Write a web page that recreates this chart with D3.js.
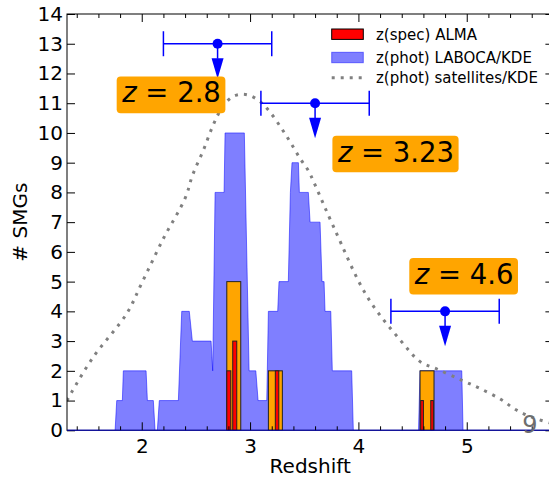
<!DOCTYPE html>
<html>
<head>
<meta charset="utf-8">
<script src="https://cdn.jsdelivr.net/npm/d3@7"></script>
<style>
	body { margin: 0; background: #fff; }
	svg { display: block; font-family: "DejaVu Sans", sans-serif; }
</style>
</head>
<body>
<svg id="chart" width="549" height="477"></svg>
<script>

// LABOCA/KDE outline, [redshift, count]
const labocaKde = [
	[1.31, 0], [1.754, 0], [1.769, 1], [1.821, 1], [1.830, 2], [2.040, 2], [2.052, 1], [2.107, 1], [2.123, 0],
	[2.144, 0], [2.162, 1], [2.338, 1], [2.369, 4], [2.439, 4], [2.467, 3], [2.640, 3], [2.655, 2], [2.677, 8],
	[2.760, 8], [2.769, 10], [2.947, 10], [2.991, 2], [3.053, 2], [3.074, 1], [3.154, 1], [3.169, 4], [3.255, 4],
	[3.267, 5], [3.353, 5], [3.372, 8], [3.387, 9], [3.446, 9], [3.455, 8], [3.538, 8], [3.554, 7], [3.646, 7],
	[3.664, 5], [3.683, 5], [3.692, 4], [3.745, 4], [3.759, 2], [3.938, 2], [3.953, 0],
	[4.555, 0], [4.569, 2], [4.954, 2], [4.966, 0], [5.8, 0]
];

// satellites/KDE curve, [redshift, count]
const satelliteKde = [
	[1.31, 1.0], [1.354, 1.29], [1.55, 2.45], [1.862, 3.93], [2.0, 4.95], [2.2, 6.45], [2.40, 7.8], [2.47, 8.59],
	[2.57, 9.43], [2.66, 10.27], [2.75, 10.9], [2.84, 11.22], [2.93, 11.3], [3.01, 11.24], [3.10, 11.03],
	[3.18, 10.72], [3.28, 10.21], [3.37, 9.7], [3.46, 9.15], [3.54, 8.72], [3.60, 8.25], [3.77, 6.85],
	[4.08, 4.5], [4.385, 3.04], [4.57, 2.31], [4.72, 2.07], [4.95, 1.69], [5.12, 1.41], [5.31, 1.05],
	[5.45, 0.7], [5.615, 0.42], [5.8, 0.22]
];

// orange bins [z0, z1, count]
const peakBins = [[2.785, 2.914, 5], [3.169, 3.298, 2], [4.569, 4.698, 2]];

// ALMA spectroscopic redshifts [z0, z1, count]
const almaSpec = [[2.785, 2.822, 2], [2.840, 2.877, 3], [3.233, 3.265, 2], [4.575, 4.600, 1], [4.668, 4.692, 1]];

// satellite peaks with error bars
const peakZ = [2.7, 3.6, 4.8];
const peakN = [13, 11, 4];
const peakErr = [0.5, 0.5, 0.5];

// orange labels, text and anchor in data units
const labelText = ["2.8", "3.23", "4.6"];
const labelZ = [2.275, 4.347, 4.976];
const labelN = [11.28, 9.29, 5.18];

const legendNames = ["z(spec) ALMA", "z(phot) LABOCA/KDE", "z(phot) satellites/KDE"];

const xMajor = [2, 3, 4, 5];
const xMinor = [1.4, 1.6, 1.8, 2.2, 2.4, 2.6, 2.8, 3.2, 3.4, 3.6, 3.8, 4.2, 4.4, 4.6, 4.8, 5.2, 5.4, 5.6];
const yTicks = [0, 1, 2, 3, 4, 5, 6, 7, 8, 9, 10, 11, 12, 13, 14];

const svg = d3.select("#chart");

const pLeft = 67, pRight = 553.4, pTop = 14, pBottom = 430.3;

const x = d3.scaleLinear().domain([1.31, 5.8]).range([pLeft, pRight]);
const y = d3.scaleLinear().domain([0, 14]).range([pBottom, pTop]);

svg.append("defs").append("clipPath")
	.attr("id", "plot-clip")
	.append("rect")
		.attr("x", pLeft).attr("y", pTop)
		.attr("width", pRight - pLeft).attr("height", pBottom - pTop);

const plot = svg.append("g").attr("clip-path", "url(#plot-clip)");

// LABOCA KDE area
const outline = d3.line().x(d => x(d[0])).y(d => y(d[1]));
plot.append("path")
	.attr("d", outline(labocaKde) + "Z")
	.attr("fill", "rgba(0,0,255,0.5)")
	.attr("stroke", "rgba(0,0,255,0.5)")
	.attr("stroke-width", 1);

// satellites KDE dotted
const curve = d3.line().x(d => x(d[0])).y(d => y(d[1])).curve(d3.curveCatmullRom);
plot.append("path")
	.attr("d", curve(satelliteKde))
	.attr("fill", "none")
	.attr("stroke", "#808080")
	.attr("stroke-width", 3)
	.attr("stroke-dasharray", "3 6");

// orange bins
plot.selectAll("rect.bin")
	.data(peakBins)
	.enter().append("rect")
		.attr("class", "bin")
		.attr("x", d => x(d[0]))
		.attr("y", d => y(d[2]))
		.attr("width", d => x(d[1]) - x(d[0]))
		.attr("height", d => y(0) - y(d[2]))
		.attr("fill", "#ffa500")
		.attr("stroke", "#222")
		.attr("stroke-width", 1);

// ALMA bars
plot.selectAll("rect.alma")
	.data(almaSpec)
	.enter().append("rect")
		.attr("class", "alma")
		.attr("x", d => x(d[0]))
		.attr("y", d => y(d[2]))
		.attr("width", d => x(d[1]) - x(d[0]))
		.attr("height", d => y(0) - y(d[2]))
		.attr("fill", "#ff0000")
		.attr("stroke", "#222")
		.attr("stroke-width", 1);

// error bars with arrows
const errG = svg.append("g");
peakZ.forEach((z, i) => {
	const cx = x(z), cy = y(peakN[i]);
	const x0 = x(z - peakErr[i]), x1 = x(z + peakErr[i]);
	const g = errG.append("g").attr("stroke", "#0000ff").attr("fill", "#0000ff");
	g.append("line").attr("x1", x0).attr("x2", x1).attr("y1", cy).attr("y2", cy).attr("stroke-width", 1.5);
	g.append("line").attr("x1", x0).attr("x2", x0).attr("y1", cy - 12.5).attr("y2", cy + 12.5).attr("stroke-width", 1.5);
	g.append("line").attr("x1", x1).attr("x2", x1).attr("y1", cy - 12.5).attr("y2", cy + 12.5).attr("stroke-width", 1.5);
	g.append("line").attr("x1", cx).attr("x2", cx).attr("y1", cy).attr("y2", cy + 15).attr("stroke-width", 1.5);
	g.append("path")
		.attr("d", `M${cx - 6},${cy + 14.5}L${cx + 6},${cy + 14.5}L${cx},${cy + 35}Z`)
		.attr("stroke", "none");
	g.append("circle").attr("cx", cx).attr("cy", cy).attr("r", 5).attr("stroke", "none");
});

// orange labels
labelText.forEach((t, i) => {
	const cx = x(labelZ[i]), cy = y(labelN[i]);
	const g = svg.append("g");
	const box = g.append("rect");
	const txt = g.append("text")
		.attr("x", cx).attr("y", cy + 7.5)
		.attr("text-anchor", "middle")
		.attr("font-size", 27.5)
		.attr("fill", "#000");
	txt.append("tspan").attr("font-style", "italic").text("z");
	txt.append("tspan").text("\u00a0=\u00a0" + t);
	const bb = txt.node().getBBox();
	box.attr("x", bb.x - 4.5).attr("y", cy - 18.3)
		.attr("width", bb.width + 9).attr("height", 36.6)
		.attr("rx", 4).attr("fill", "#ffa500");
});

// axes
const axisG = svg.append("g").attr("font-size", 20);

function styleAxis(g) {
	g.select(".domain").remove();
	g.selectAll(".tick line").attr("stroke", "#000").attr("stroke-width", 1);
	g.selectAll(".tick text").attr("fill", "#000").attr("font-size", 20).attr("font-family", "DejaVu Sans, sans-serif");
}

axisG.append("g")
	.attr("transform", `translate(0,${pBottom})`)
	.call(d3.axisBottom(x).tickValues(xMajor).tickSize(-8).tickPadding(9).tickFormat(d3.format("d")))
	.call(styleAxis);
axisG.append("g")
	.attr("transform", `translate(0,${pBottom})`)
	.call(d3.axisBottom(x).tickValues(xMinor).tickSize(-4).tickFormat(""))
	.call(styleAxis);
axisG.append("g")
	.attr("transform", `translate(0,${pTop})`)
	.call(d3.axisTop(x).tickValues(xMajor).tickSize(-8).tickFormat(""))
	.call(styleAxis);
axisG.append("g")
	.attr("transform", `translate(0,${pTop})`)
	.call(d3.axisTop(x).tickValues(xMinor).tickSize(-4).tickFormat(""))
	.call(styleAxis);
axisG.append("g")
	.attr("transform", `translate(${pLeft},0)`)
	.call(d3.axisLeft(y).tickValues(yTicks).tickSize(-8).tickPadding(4).tickFormat(d3.format("d")))
	.call(styleAxis);
axisG.append("g")
	.attr("transform", `translate(${pRight},0)`)
	.call(d3.axisRight(y).tickValues(yTicks).tickSize(-8).tickFormat(""))
	.call(styleAxis);

// spines
svg.append("rect")
	.attr("x", pLeft).attr("y", pTop)
	.attr("width", pRight - pLeft).attr("height", pBottom - pTop)
	.attr("fill", "none").attr("stroke", "#000").attr("stroke-width", 1);

// baseline of the KDE fill sits over the bottom spine
svg.append("line")
	.attr("x1", pLeft).attr("x2", pRight).attr("y1", pBottom).attr("y2", pBottom)
	.attr("stroke", "rgba(0,0,255,0.5)").attr("stroke-width", 1.2);

// stray gray label in the corner
svg.append("text")
	.attr("x", 530).attr("y", 433)
	.attr("text-anchor", "middle")
	.attr("font-size", 24)
	.attr("fill", "#6e6e6e")
	.text("9");

// axis titles
svg.append("text")
	.attr("x", (pLeft + pRight) / 2).attr("y", 473)
	.attr("text-anchor", "middle")
	.attr("font-size", 20)
	.text("Redshift");
svg.append("text")
	.attr("transform", `translate(26.5,${(pTop + pBottom) / 2}) rotate(-90)`)
	.attr("text-anchor", "middle")
	.attr("font-size", 20)
	.text("# SMGs");

// legend
const legend = svg.append("g").attr("font-size", 15);
const rowY = [34.2, 57.5, 77.7];
legend.append("rect")
	.attr("x", 331.7).attr("y", rowY[0] - 5.2).attr("width", 31.6).attr("height", 10.4)
	.attr("fill", "#ff0000").attr("stroke", "#000").attr("stroke-width", 1);
legend.append("rect")
	.attr("x", 331.7).attr("y", rowY[1] - 5.2).attr("width", 31.6).attr("height", 10.4)
	.attr("fill", "rgba(0,0,255,0.5)").attr("stroke", "rgba(0,0,255,0.5)").attr("stroke-width", 1);
legend.append("line")
	.attr("x1", 331.7).attr("x2", 363.3).attr("y1", rowY[2]).attr("y2", rowY[2])
	.attr("stroke", "#808080").attr("stroke-width", 3).attr("stroke-dasharray", "3 6");
legendNames.forEach((name, i) => {
	legend.append("text")
		.attr("x", 376).attr("y", rowY[i] + 5.5)
		.attr("fill", "#000")
		.text(name);
});

</script>
</body>
</html>
